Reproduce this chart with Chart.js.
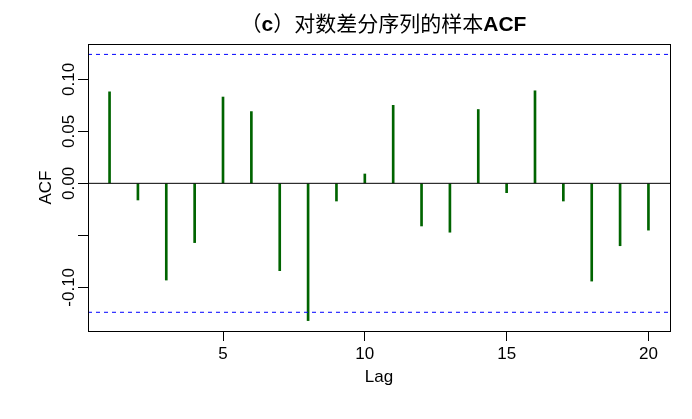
<!DOCTYPE html>
<html>
<head>
<meta charset="utf-8">
<script src="https://cdn.jsdelivr.net/npm/chart.js@4.4.1/dist/chart.umd.min.js"></script>
<style>
  html, body { margin: 0; padding: 0; background: #fff; }
  #wrap { width: 692px; height: 419px; position: relative; }
</style>
</head>
<body>
<div id="wrap"><canvas id="c" width="692" height="419"></canvas></div>
<script>
// ---- data ----
const lags = [1, 2, 3, 4, 5, 6, 7, 8, 9, 10, 11, 12, 13, 14, 15, 16, 17, 18, 19, 20];
const acfValues = [0.088, -0.016, -0.093, -0.057, 0.083, 0.069, -0.084, -0.132, -0.017, 0.009,
                   0.075, -0.041, -0.047, 0.071, -0.009, 0.089, -0.017, -0.094, -0.060, -0.045];
const ciBound = 0.124;
const xTicks = [5, 10, 15, 20];
const xTickLabels = ['5', '10', '15', '20'];
const yTicks = [-0.10, -0.05, 0.00, 0.05, 0.10];
const yTickLabels = ['-0.10', '', '0.00', '0.05', '0.10'];
const titleParts = [
  { text: '（', cjk: true },
  { text: 'c', cjk: false },
  { text: '）', cjk: true },
  { text: '对数差分序列的样本', cjk: true },
  { text: 'ACF', cjk: false }
];
const xLabel = 'Lag';
const yLabel = 'ACF';

// ---- limits (R style, 4% extension) ----
const xMin = 0.24, xMax = 20.76;
const yMin = -0.142, yMax = 0.134;

const LATIN = '"Liberation Sans", Arial, sans-serif';
const CJK = '"Noto Sans CJK SC", "Noto Sans CJK JP", sans-serif';

const rDecor = {
  id: 'rDecor',
  afterDraw(chart) {
    const ctx = chart.ctx;
    const a = chart.chartArea;
    const ys = chart.scales.y;
    ctx.save();
    // plot box
    ctx.strokeStyle = '#000';
    ctx.lineWidth = 1;
    ctx.strokeRect(Math.round(a.left) + 0.5, Math.round(a.top) + 0.5,
                   Math.round(a.right - a.left), Math.round(a.bottom - a.top));
    // rotated y tick labels
    ctx.fillStyle = '#000';
    ctx.font = '17px ' + LATIN;
    ctx.textAlign = 'center';
    ctx.textBaseline = 'alphabetic';
    yTicks.forEach((v, i) => {
      if (!yTickLabels[i]) return;
      const py = ys.getPixelForValue(v);
      ctx.save();
      ctx.translate(73.5, py);
      ctx.rotate(-Math.PI / 2);
      ctx.fillText(yTickLabels[i], 0, 0);
      ctx.restore();
    });
    // y axis label
    ctx.save();
    ctx.translate(51, (a.top + a.bottom) / 2);
    ctx.rotate(-Math.PI / 2);
    ctx.fillText(yLabel, 0, 0);
    ctx.restore();
    // x axis label
    ctx.fillText(xLabel, (a.left + a.right) / 2, 382);
    // title with mixed fonts
    const fonts = p => p.cjk ? ('21px ' + CJK) : ('bold 21px ' + LATIN);
    let total = 0;
    titleParts.forEach(p => { ctx.font = fonts(p); p.w = ctx.measureText(p.text).width; total += p.w; });
    let x = 383.5 - total / 2;
    ctx.textAlign = 'left';
    titleParts.forEach(p => { ctx.font = fonts(p); ctx.fillText(p.text, x, 31); x += p.w; });
    ctx.restore();
  }
};

new Chart(document.getElementById('c'), {
  type: 'bar',
  data: {
    datasets: [
      {
        type: 'bar',
        data: lags.map((l, i) => ({ x: l, y: acfValues[i] })),
        backgroundColor: '#006400',
        borderWidth: 0,
        barThickness: 2,
        order: 3
      },
      {
        type: 'line',
        data: [{ x: xMin, y: 0 }, { x: xMax, y: 0 }],
        borderColor: '#000', borderWidth: 1, pointRadius: 0, order: 1
      },
      {
        type: 'line',
        data: [{ x: xMin, y: ciBound }, { x: xMax, y: ciBound }],
        borderColor: '#0000ff', borderWidth: 1, borderDash: [4, 4], pointRadius: 0, order: 1
      },
      {
        type: 'line',
        data: [{ x: xMin, y: -ciBound }, { x: xMax, y: -ciBound }],
        borderColor: '#0000ff', borderWidth: 1, borderDash: [4, 4], pointRadius: 0, order: 1
      }
    ]
  },
  options: {
    responsive: false,
    animation: false,
    layout: { padding: { top: 44, right: 22, left: 0, bottom: 0 } },
    plugins: { legend: { display: false }, title: { display: false }, tooltip: { enabled: false } },
    scales: {
      x: {
        type: 'linear', min: xMin, max: xMax, offset: false,
        afterBuildTicks: s => { s.ticks = xTicks.map(v => ({ value: v })); },
        afterFit: s => { s.height = 88; },
        ticks: {
          autoSkip: false, maxRotation: 0, minRotation: 0, padding: 3,
          color: '#000', font: { family: LATIN, size: 17 },
          callback: v => xTickLabels[xTicks.indexOf(v)]
        },
        grid: { offset: false, drawOnChartArea: false, drawTicks: true, tickLength: 10, color: '#000' },
        border: { display: true, color: '#000' }
      },
      y: {
        type: 'linear', min: yMin, max: yMax,
        afterBuildTicks: s => { s.ticks = yTicks.map(v => ({ value: v })); },
        afterFit: s => { s.width = 88; },
        ticks: { display: false },
        grid: { drawOnChartArea: false, drawTicks: true, tickLength: 10, color: '#000' },
        border: { display: true, color: '#000' }
      }
    }
  },
  plugins: [rDecor]
});
</script>
</body>
</html>
